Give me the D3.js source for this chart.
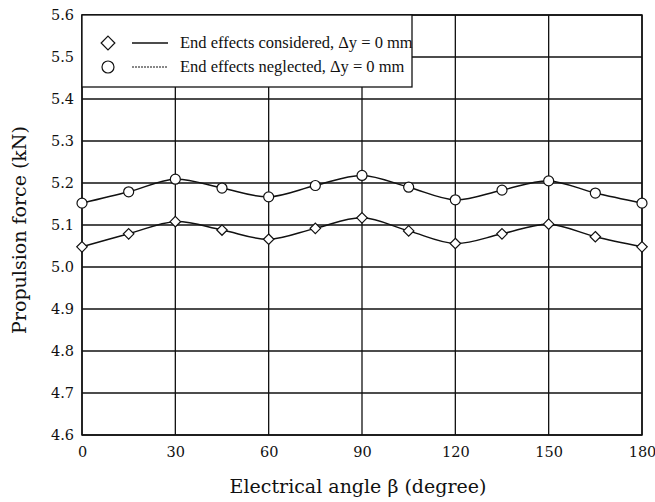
<!DOCTYPE html>
<html lang="en">
<head>
    <meta charset="UTF-8">
    <title>Propulsion force</title>
    <script src="https://cdnjs.cloudflare.com/ajax/libs/d3/7.8.5/d3.min.js"></script>
    <style>
        body { margin: 0; background: #fff; }
        text { font-family: "DejaVu Serif", "Liberation Serif", serif; fill: #111; }
    </style>
</head>
<body>
<svg id="chart" width="655" height="502"></svg>

<script>
    // data
    var angles = [0, 15, 30, 45, 60, 75, 90, 105, 120, 135, 150, 165, 180];
    var considered = [5.048, 5.079, 5.108, 5.088, 5.066, 5.092, 5.117, 5.086, 5.056, 5.079, 5.102, 5.072, 5.048];
    var neglected = [5.152, 5.179, 5.209, 5.188, 5.167, 5.194, 5.218, 5.190, 5.160, 5.183, 5.205, 5.176, 5.152];
    var xTicks = [0, 30, 60, 90, 120, 150, 180];
    var yTicks = [4.6, 4.7, 4.8, 4.9, 5.0, 5.1, 5.2, 5.3, 5.4, 5.5, 5.6];
    var legendLabels = ['End effects considered, \u0394y = 0 mm', 'End effects neglected, \u0394y = 0 mm'];

    var margin = {left: 82, right: 13, top: 15, bottom: 67};
    var width = 655 - margin.left - margin.right;
    var height = 502 - margin.top - margin.bottom;

    var svg = d3.select('#chart');
    var g = svg.append('g').attr('transform', 'translate(' + margin.left + ',' + margin.top + ')');

    var x = d3.scaleLinear().domain([0, 180]).range([0, width]);
    var y = d3.scaleLinear().domain([4.6, 5.6]).range([height, 0]);

    // grid
    g.append('g').selectAll('line').data(xTicks).enter().append('line')
        .attr('x1', x).attr('x2', x).attr('y1', 0).attr('y2', height)
        .attr('stroke', '#111').attr('stroke-width', 1.3);
    g.append('g').selectAll('line').data(yTicks).enter().append('line')
        .attr('x1', 0).attr('x2', width).attr('y1', y).attr('y2', y)
        .attr('stroke', '#111').attr('stroke-width', 1.3);

    // axes (labels only)
    var xAxis = g.append('g').attr('transform', 'translate(0,' + height + ')')
        .call(d3.axisBottom(x).tickValues(xTicks).tickSize(0).tickPadding(12));
    var yAxis = g.append('g')
        .call(d3.axisLeft(y).tickValues(yTicks).tickSize(0).tickPadding(8).tickFormat(d3.format('.1f')));
    [xAxis, yAxis].forEach(function (a) {
        a.select('.domain').remove();
        a.selectAll('text').style('font-family', '"DejaVu Serif", serif').style('font-size', '14.5px').attr('fill', '#111');
    });

    g.append('rect').attr('width', width).attr('height', height)
        .attr('fill', 'none').attr('stroke', '#111').attr('stroke-width', 1.5);

    // curves
    var line = d3.line()
        .x(function (d) { return x(d[0]); })
        .y(function (d) { return y(d[1]); })
        .curve(d3.curveCatmullRom.alpha(0.5));

    var series = [considered, neglected];
    series.forEach(function (vals) {
        var pts = angles.map(function (a, i) { return [a, vals[i]]; });
        g.append('path').datum(pts).attr('d', line)
            .attr('fill', 'none').attr('stroke', '#111').attr('stroke-width', 1.5);
    });

    var diamond = d3.symbol().type(d3.symbolDiamond2).size(70);
    g.append('g').selectAll('path').data(angles).enter().append('path')
        .attr('d', diamond)
        .attr('transform', function (d, i) { return 'translate(' + x(d) + ',' + y(considered[i]) + ')'; })
        .attr('fill', '#fff').attr('stroke', '#111').attr('stroke-width', 1.2);

    g.append('g').selectAll('circle').data(angles).enter().append('circle')
        .attr('cx', x).attr('cy', function (d, i) { return y(neglected[i]); }).attr('r', 5)
        .attr('fill', '#fff').attr('stroke', '#111').attr('stroke-width', 1.2);

    // legend
    var leg = g.append('g');
    leg.append('rect').attr('x', 0).attr('y', 0).attr('width', 330).attr('height', 72)
        .attr('fill', '#fff').attr('stroke', '#111').attr('stroke-width', 1.3);
    legendLabels.forEach(function (t, i) {
        var ly = 28 + i * 24;
        if (i === 0) {
            leg.append('path').attr('d', d3.symbol().type(d3.symbolDiamond2).size(120))
                .attr('transform', 'translate(26,' + ly + ')')
                .attr('fill', '#fff').attr('stroke', '#111').attr('stroke-width', 1.2);
        } else {
            leg.append('circle').attr('cx', 26).attr('cy', ly).attr('r', 6)
                .attr('fill', '#fff').attr('stroke', '#111').attr('stroke-width', 1.2);
        }
        leg.append('line').attr('x1', 50).attr('x2', 86).attr('y1', ly).attr('y2', ly)
            .attr('stroke', '#111').attr('stroke-width', i === 0 ? 1.6 : 1)
            .attr('stroke-dasharray', i === 0 ? null : '2,1');
        leg.append('text').attr('x', 98).attr('y', ly + 5)
            .style('font-family', '"Liberation Serif", serif').style('font-size', '16.5px').text(t);
    });

    // axis titles
    svg.append('text').attr('x', 358).attr('y', 493)
        .attr('text-anchor', 'middle').style('font-size', '19px')
        .text('Electrical angle \u03B2 (degree)');
    svg.append('text').attr('transform', 'translate(26,230) rotate(-90)')
        .attr('text-anchor', 'middle').style('font-size', '19px')
        .text('Propulsion force (kN)');
</script>
</body>
</html>
